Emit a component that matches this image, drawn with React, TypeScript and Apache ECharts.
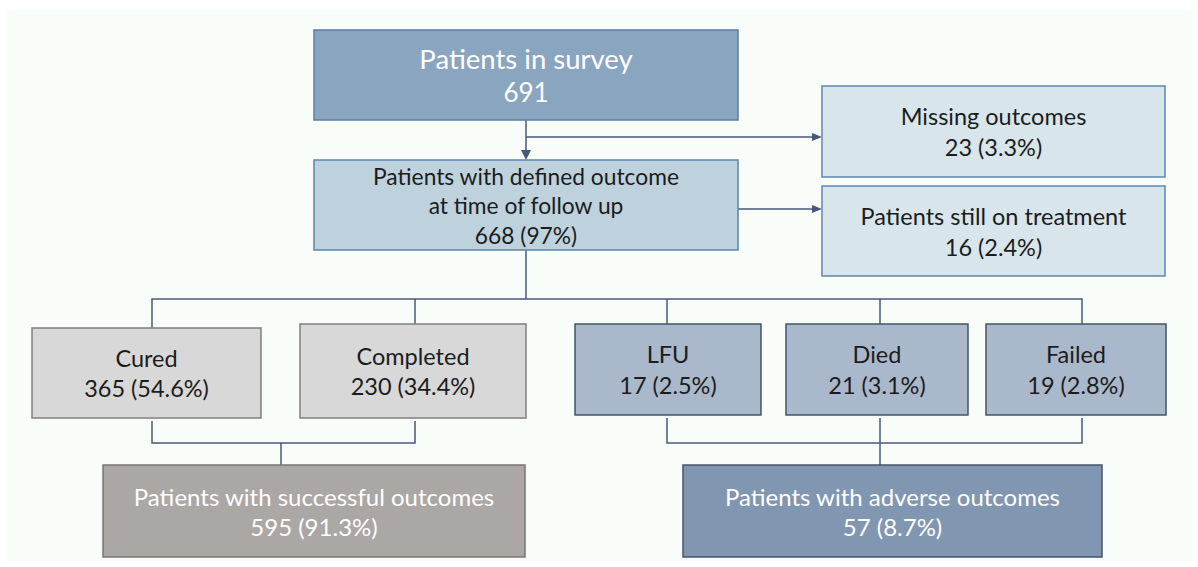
import React, { useEffect, useRef } from "react";
import * as echarts from "echarts";

// ---- Data ----
const nodeTitles: string[] = [
  "Patients in survey",
  "Patients with defined outcome\nat time of follow up",
  "Missing outcomes",
  "Patients still on treatment",
  "Cured",
  "Completed",
  "LFU",
  "Died",
  "Failed",
  "Patients with successful outcomes",
  "Patients with adverse outcomes",
];
const nodeCounts: number[] = [691, 668, 23, 16, 365, 230, 17, 21, 19, 595, 57];
const nodePercents: (number | null)[] = [null, 97, 3.3, 2.4, 54.6, 34.4, 2.5, 3.1, 2.8, 91.3, 8.7];

// ---- Layout (positions / sizes) ----
const boxLayout: number[][] = [
  [314, 30, 424, 90],
  [314, 160, 424, 90],
  [822, 86, 343, 91],
  [822, 186, 343, 90],
  [32, 328, 229, 90],
  [300, 324, 226, 94],
  [575, 324, 186, 91],
  [786, 324, 182, 91],
  [986, 324, 180, 91],
  [103, 465, 422, 92],
  [683, 465, 419, 92],
];

type BoxStyle = { fill: string; stroke: string; color: string; sizes: number[]; lh: number };
const sTop: BoxStyle = { fill: "#8aa5bf", stroke: "#5a7ea3", color: "#ffffff", sizes: [27.5, 26], lh: 34 };
const sMid: BoxStyle = { fill: "#bed2de", stroke: "#5b84aa", color: "#1c1c1c", sizes: [22.8, 22.8, 22.8], lh: 29.5 };
const sSide: BoxStyle = { fill: "#d8e6ec", stroke: "#5f87aa", color: "#1c1c1c", sizes: [23.5, 23.5], lh: 31 };
const sGray: BoxStyle = { fill: "#d8d8d8", stroke: "#7f7f7f", color: "#1c1c1c", sizes: [23.5, 23.5], lh: 30 };
const sSlate: BoxStyle = { fill: "#a9b8ca", stroke: "#44546a", color: "#1c1c1c", sizes: [23.5, 23.5], lh: 31 };
const sSucc: BoxStyle = { fill: "#aba7a5", stroke: "#7a7676", color: "#ffffff", sizes: [24, 24], lh: 30 };
const sAdv: BoxStyle = { fill: "#8196b0", stroke: "#44546a", color: "#ffffff", sizes: [24, 24], lh: 30 };
const boxStyles: BoxStyle[] = [sTop, sMid, sSide, sSide, sGray, sGray, sSlate, sSlate, sSlate, sSucc, sAdv];

const LINE = "#4a5878";
const connectors: number[][][] = [
  [[526, 120], [526, 152]],
  [[526, 137], [814, 137]],
  [[738, 209], [814, 209]],
  [[526, 250], [526, 299]],
  [[152, 328], [152, 299], [1082, 299], [1082, 324]],
  [[415, 299], [415, 324]],
  [[667, 299], [667, 324]],
  [[880, 299], [880, 324]],
  [[152, 421], [152, 443], [415, 443], [415, 421]],
  [[281, 443], [281, 465]],
  [[667, 418], [667, 443], [1082, 443], [1082, 418]],
  [[880, 418], [880, 465]],
];
const arrowHeads: number[][][] = [
  [[521, 150], [531, 150], [526, 160]],
  [[812, 133], [812, 141], [822, 137]],
  [[812, 205], [812, 213], [822, 209]],
];

const FONT = "Lato, 'Open Sans', sans-serif";

function buildGraphics(): any[] {
  const els: any[] = [];
  els.push({
    type: "rect",
    shape: { x: 7, y: 10, width: 1185, height: 551 },
    style: { fill: "#f9fdf9" },
    silent: true,
  });
  connectors.forEach((pts) => {
    els.push({
      type: "polyline",
      shape: { points: pts },
      style: { stroke: LINE, lineWidth: 1.5, fill: null },
    });
  });
  arrowHeads.forEach((pts) => {
    els.push({ type: "polygon", shape: { points: pts }, style: { fill: LINE } });
  });
  nodeTitles.forEach((title, i) => {
    const [x, y, w, h] = boxLayout[i];
    const st = boxStyles[i];
    els.push({
      type: "rect",
      shape: { x, y, width: w, height: h },
      style: { fill: st.fill, stroke: st.stroke, lineWidth: 1.5 },
    });
    const pct = nodePercents[i];
    const lines = [...title.split("\n"), pct === null ? String(nodeCounts[i]) : `${nodeCounts[i]} (${pct}%)`];
    const cx = x + w / 2;
    const cy = y + h / 2;
    lines.forEach((ln, k) => {
      const ty = cy + (k - (lines.length - 1) / 2) * st.lh;
      els.push({
        type: "text",
        x: cx,
        y: ty,
        style: {
          text: ln,
          fill: st.color,
          fontSize: st.sizes[k] ?? st.sizes[0],
          fontFamily: FONT,
          align: "center",
          verticalAlign: "middle",
          textAlign: "center",
          textVerticalAlign: "middle",
        },
      });
    });
  });
  return els;
}

export default function App() {
  const ref = useRef<HTMLDivElement>(null);
  useEffect(() => {
    if (!ref.current) return;
    const chart = echarts.init(ref.current, null, { renderer: "svg" });
    chart.setOption({
      animation: false,
      backgroundColor: "#ffffff",
      graphic: { elements: buildGraphics() },
    });
    return () => chart.dispose();
  }, []);
  return (
    <div
      ref={ref}
      style={{ position: "absolute", left: 0, top: 0, width: 1198, height: 567 }}
    />
  );
}
